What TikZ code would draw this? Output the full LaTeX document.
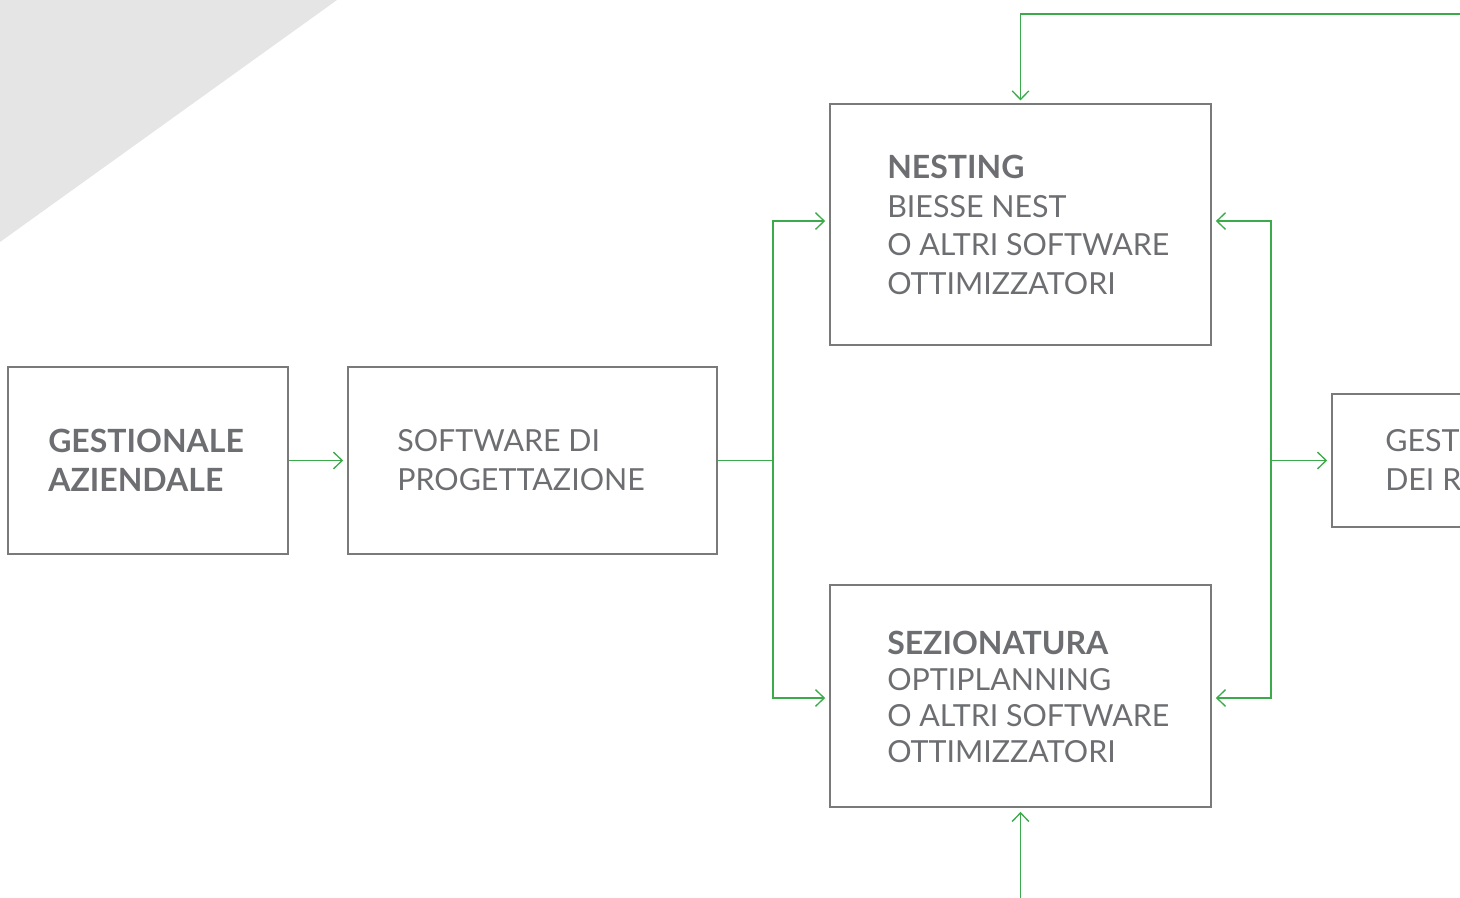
\documentclass[tikz,border=0pt]{standalone}
\usepackage{fontspec}
\setmainfont{Lato}
\usetikzlibrary{arrows.meta}
\definecolor{txtgray}{HTML}{6D6E71}
\definecolor{boxgray}{HTML}{7A7A7A}
\definecolor{bggray}{HTML}{E5E5E5}
\definecolor{arrgreen}{HTML}{3AAA4A}
\newcommand{\hb}[1]{{\fontsize{24}{29}\selectfont\textbf{#1}}}
\tikzset{
  box/.style={draw=boxgray, line width=1.3pt, rectangle, inner sep=0pt},
  lbl/.style={anchor=west, align=left, text=txtgray, inner sep=0pt, font=\fontsize{22.8}{29.5}\selectfont},
  conn/.style={draw=arrgreen, line width=1pt},
  arr/.style={conn, -{Straight Barb[length=6.5pt, width=12.5pt, line width=1pt]}, shorten >=3pt},
}
\begin{document}
\begin{tikzpicture}[x=0.75pt, y=-0.75pt]
\useasboundingbox (0,0) rectangle (1460,897);
\clip (0,0) rectangle (1460,897);
\fill[bggray] (0,0) -- (337,0) -- (0,242) -- cycle;

\node[box, minimum width=280*0.75pt, minimum height=187*0.75pt] (b1) at (148,460.5) {};
\node[box, minimum width=369*0.75pt, minimum height=187*0.75pt] (b2) at (532.5,460.5) {};
\node[box, minimum width=381*0.75pt, minimum height=241*0.75pt] (nest) at (1020.5,224.5) {};
\node[box, minimum width=381*0.75pt, minimum height=222*0.75pt] (sez) at (1020.5,696) {};
\node[box, minimum width=300*0.75pt, minimum height=133*0.75pt] (rb) at (1482,460.5) {};

\node[lbl, font=\fontsize{24}{29.5}\selectfont] (t1) at (48,460) {\textbf{GESTIONALE}\\\textbf{AZIENDALE}};
\node[lbl] (t2) at (397,460) {SOFTWARE DI\\PROGETTAZIONE};
\node[lbl, font=\fontsize{22.8}{29}\selectfont] (t3) at (887,225) {\hb{NESTING}\\BIESSE NEST\\O ALTRI SOFTWARE\\OTTIMIZZATORI};
\node[lbl, font=\fontsize{22.8}{27}\selectfont] (t4) at (887,697) {\hb{SEZIONATURA}\\OPTIPLANNING\\O ALTRI SOFTWARE\\OTTIMIZZATORI};
\node[lbl] (t5) at (1385,460) {GEST\\DEI R};

\coordinate (jl) at (773,460.5);
\coordinate (jr) at (1271,460.5);
\coordinate (topR) at (1470,14);
\coordinate (botS) at (1020.5,900);

\draw[arr] (b1.east) -- (b2.west);
\draw[conn] (b2.east) -- (jl);
\draw[arr] (jl) |- ([yshift=2.6pt]nest.west);
\draw[arr] (jl) |- ([yshift=-1.5pt]sez.west);
\draw[arr] (jr) |- ([yshift=2.6pt]nest.east);
\draw[arr] (jr) |- ([yshift=-1.5pt]sez.east);
\draw[arr] (jr) -- (rb.west);
\draw[conn, -{Straight Barb[length=6.5pt, width=12.5pt, line width=1pt]}, shorten >=2pt] (topR) -| (nest.north);
\draw[arr] (botS) -- (sez.south);
\end{tikzpicture}
\end{document}
